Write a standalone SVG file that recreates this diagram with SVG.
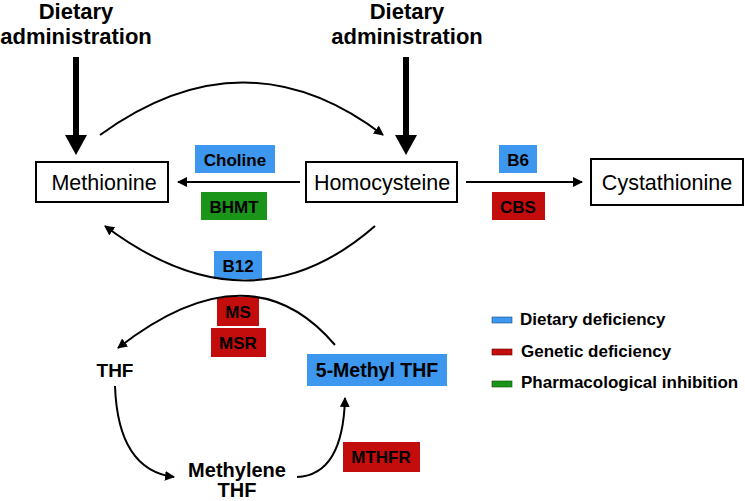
<svg xmlns="http://www.w3.org/2000/svg" width="745" height="501" viewBox="0 0 745 501">
<style>
.t{font-family:"Liberation Sans",Arial,sans-serif;fill:#000}
.b{font-weight:bold}
.box{fill:#fff;stroke:#000;stroke-width:2}
.blue{fill:#3d97ee}
.red{fill:#c30c0c}
.green{fill:#1a951a}
.c{fill:none;stroke:#000;stroke-width:2}
</style>
<defs>
<marker id="ah" viewBox="0 0 10 10" refX="9" refY="5" markerWidth="5" markerHeight="5" orient="auto" markerUnits="strokeWidth">
<path d="M0,0 L10,5 L0,10 z" fill="#000"/>
</marker>
</defs>
<rect width="745" height="501" fill="#fff"/>
<g id="diet1">
<text class="t b" x="76" y="19" font-size="22" text-anchor="middle">Dietary</text>
<text class="t b" x="76" y="44" font-size="22" text-anchor="middle">administration</text>
</g>
<g id="diet2">
<text class="t b" x="407" y="19" font-size="22" text-anchor="middle">Dietary</text>
<text class="t b" x="407" y="44" font-size="22" text-anchor="middle">administration</text>
</g>
<g id="methionine"><rect class="box" x="36" y="162" width="132" height="40"/><text class="t" x="104" y="190" font-size="21.5" text-anchor="middle">Methionine</text></g>
<g id="homocysteine"><rect class="box" x="306" y="162" width="151" height="40"/><text class="t" x="382" y="190" font-size="21.5" text-anchor="middle">Homocysteine</text></g>
<g id="cystathionine"><rect class="box" x="591" y="159" width="152" height="46"/><text class="t" x="667" y="190" font-size="21.5" text-anchor="middle">Cystathionine</text></g>
<g id="choline"><rect class="blue" x="195" y="145" width="80" height="28"/><text class="t b" x="235" y="166" font-size="17" text-anchor="middle">Choline</text></g>
<g id="bhmt"><rect class="green" x="201" y="192" width="66" height="28"/><text class="t b" x="234" y="213" font-size="17" text-anchor="middle">BHMT</text></g>
<g id="b6"><rect class="blue" x="499" y="145" width="38" height="28"/><text class="t b" x="518" y="166" font-size="17" text-anchor="middle">B6</text></g>
<g id="cbs"><rect class="red" x="492" y="192" width="53" height="28"/><text class="t b" x="518" y="213" font-size="17" text-anchor="middle">CBS</text></g>
<g id="b12"><rect class="blue" x="214" y="251" width="48" height="28"/><text class="t b" x="238" y="272" font-size="17" text-anchor="middle">B12</text></g>
<g id="ms"><rect class="red" x="217" y="297" width="42" height="29"/><text class="t b" x="238" y="318" font-size="17" text-anchor="middle">MS</text></g>
<g id="msr"><rect class="red" x="211" y="328" width="55" height="29"/><text class="t b" x="238" y="349" font-size="17" text-anchor="middle">MSR</text></g>
<g id="thf"><text class="t b" x="115" y="377" font-size="19" text-anchor="middle">THF</text></g>
<g id="methylthf"><rect class="blue" x="307" y="354" width="140" height="32"/><text class="t b" x="377" y="377" font-size="19.5" text-anchor="middle">5-Methyl THF</text></g>
<g id="methylene"><text class="t b" x="237" y="477" font-size="20" text-anchor="middle">Methylene</text><text class="t b" x="237" y="497" font-size="20" text-anchor="middle">THF</text></g>
<g id="mthfr"><rect class="red" x="343" y="442" width="77" height="30"/><text class="t b" x="381" y="463" font-size="17" text-anchor="middle">MTHFR</text></g>
<g id="legend">
<rect class="blue" x="492" y="317" width="20" height="6" stroke="#1a4f8a" stroke-width="0.6"/>
<text class="t b" x="520" y="325" font-size="17">Dietary deficiency</text>
<rect class="red" x="492" y="349" width="20" height="6" stroke="#600" stroke-width="0.6"/>
<text class="t b" x="521" y="357" font-size="17">Genetic deficiency</text>
<rect class="green" x="492" y="381" width="20" height="6" stroke="#0a4a0a" stroke-width="0.6"/>
<text class="t b" x="521" y="388" font-size="17">Pharmacological inhibition</text>
</g>
<g id="connectors">
<path d="M76,57 V136" stroke="#000" stroke-width="6"/>
<path d="M65,135 H87 L76,155 z" fill="#000"/>
<path d="M406,57 V136" stroke="#000" stroke-width="6"/>
<path d="M395,135 H417 L406,155 z" fill="#000"/>
<path class="c" d="M300,182 H178" marker-end="url(#ah)"/>
<path class="c" d="M466,182 H582" marker-end="url(#ah)"/>
<path class="c" d="M100,135 Q245,30 383,135" marker-end="url(#ah)"/>
<path class="c" d="M375,226 Q250,335 105,226" marker-end="url(#ah)"/>
<path class="c" d="M335,345 Q250,245 118,348" marker-end="url(#ah)"/>
<path class="c" d="M115,386 Q118,470 174,477" marker-end="url(#ah)"/>
<path class="c" d="M297,477 Q343,475 345,398" marker-end="url(#ah)"/>
</g>
</svg>
